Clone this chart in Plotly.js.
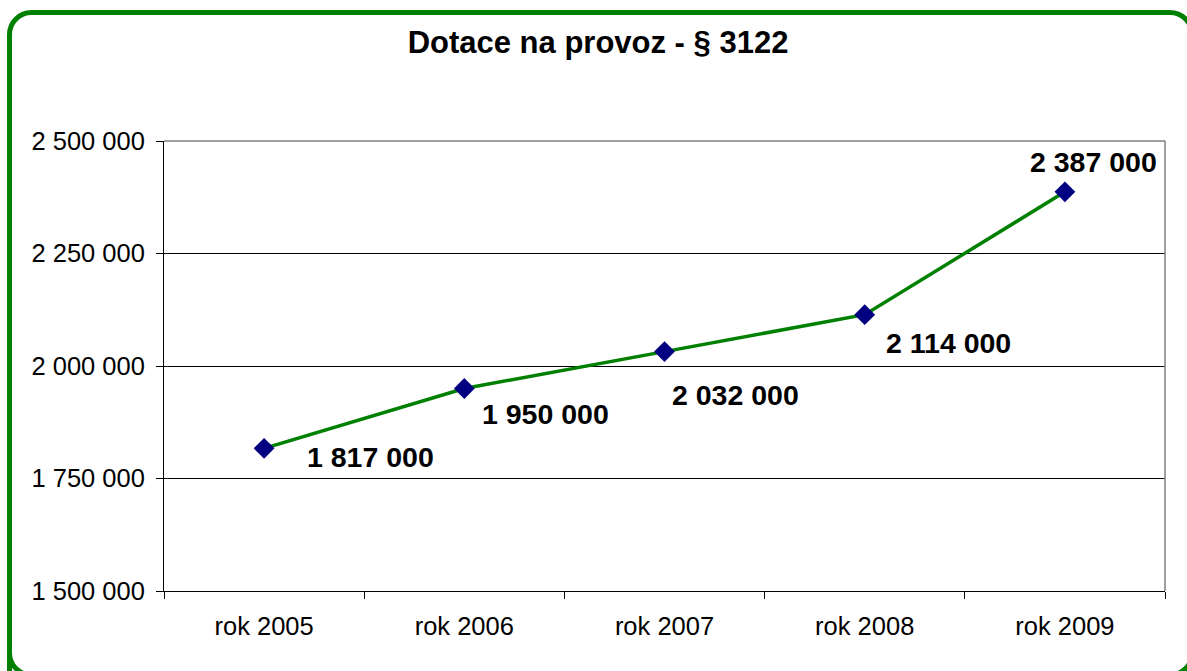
<!DOCTYPE html>
<html>
<head>
<meta charset="utf-8">
<script src="https://cdn.plot.ly/plotly-3.0.1.min.js"></script>
<style>
  html, body { margin: 0; padding: 0; background: #ffffff; overflow: hidden; }
  #wrap { position: relative; width: 1187px; height: 671px; overflow: hidden; }
  #chart { position: absolute; left: 0; top: 0; width: 1187px; height: 671px; }
  #frame { position: absolute; left: 0; top: 0; width: 1187px; height: 671px; pointer-events: none; overflow: hidden; }
</style>
</head>
<body>
<div id="wrap">
  <div id="chart"></div>
  <svg id="frame" width="1187" height="671" xmlns="http://www.w3.org/2000/svg">
    <path d="M 9.5 700 L 9.5 34.5 A 22 22 0 0 1 31.5 12.5 L 1170 12.5 A 22 22 0 0 1 1192 34.5"
          fill="none" stroke="#008000" stroke-width="5"/>
    <path d="M 9.5 653 A 22 22 0 0 0 31.5 675 L 1170 675 A 22 22 0 0 0 1192 653"
          fill="none" stroke="#008000" stroke-width="5"/>
  </svg>
</div>
<script>
// Data
const categories = ["rok 2005", "rok 2006", "rok 2007", "rok 2008", "rok 2009"];
const values = [1817000, 1950000, 2032000, 2114000, 2387000];
const yTickValues = [1500000, 1750000, 2000000, 2250000, 2500000];
const chartTitle = "Dotace na provoz - § 3122";

// Label placement (style, pixel offsets relative to each point)
const labelShiftX = [42, 17, 6, 20, -36];
const labelShiftY = [-9, -25, -43, -28, 30];

function fmt(v) {
  return String(v).replace(/\B(?=(\d{3})+(?!\d))/g, " ");
}

const FONT = "Liberation Sans, Arial, Helvetica, sans-serif";

const trace = {
  type: "scatter",
  mode: "lines+markers",
  x: categories,
  y: values,
  line: { color: "#008000", width: 3.5 },
  marker: { symbol: "diamond", size: 16, color: "#000080", line: { width: 0 } },
  hoverinfo: "skip",
  cliponaxis: false
};

const annotations = categories.map((c, i) => ({
  x: c, y: values[i], xref: "x", yref: "y",
  text: fmt(values[i]),
  showarrow: false,
  xanchor: "left", yanchor: "middle",
  xshift: labelShiftX[i], yshift: labelShiftY[i],
  font: { family: FONT, size: 28.5, color: "#000000", weight: "bold" },
  borderpad: 0
}));

const layout = {
  width: 1187, height: 671,
  paper_bgcolor: "#ffffff",
  plot_bgcolor: "#ffffff",
  separators: ", ",
  margin: { l: 164, r: 22, t: 141, b: 80, pad: 0 },
  showlegend: false,
  title: {
    text: "<b>" + chartTitle + "</b>",
    font: { family: FONT, size: 31, color: "#000000" },
    xref: "container", yref: "container",
    x: 598 / 1187, xanchor: "center",
    y: 1 - 42 / 671, yanchor: "middle"
  },
  xaxis: {
    type: "category",
    range: [-0.5, 4.5],
    tickson: "boundaries",
    ticks: "outside", ticklen: 7, tickcolor: "#000000", tickwidth: 1,
    showline: true, linecolor: "#000000", linewidth: 1,
    showgrid: false, zeroline: false,
    tickfont: { family: FONT, size: 25.5, color: "#000000" },
    ticklabelstandoff: 12,
    fixedrange: true
  },
  yaxis: {
    range: [1500000, 2500000],
    tickmode: "array",
    tickvals: yTickValues,
    ticktext: yTickValues.map(fmt),
    ticks: "outside", ticklen: 7, tickcolor: "#000000", tickwidth: 1,
    showline: true, linecolor: "#000000", linewidth: 1,
    showgrid: true, gridcolor: "#000000", gridwidth: 1,
    zeroline: false,
    tickfont: { family: FONT, size: 25.5, color: "#000000" },
    ticklabelstandoff: 6,
    fixedrange: true
  },
  shapes: [
    { type: "line", xref: "paper", yref: "paper", x0: 0, x1: 1, y0: 1, y1: 1,
      line: { color: "#808080", width: 1.5 }, layer: "above" },
    { type: "line", xref: "paper", yref: "paper", x0: 1, x1: 1, y0: 0, y1: 1,
      line: { color: "#808080", width: 1.5 }, layer: "above" }
  ],
  annotations: annotations
};

Plotly.newPlot("chart", [trace], layout, { displayModeBar: false, staticPlot: true });
</script>
</body>
</html>
